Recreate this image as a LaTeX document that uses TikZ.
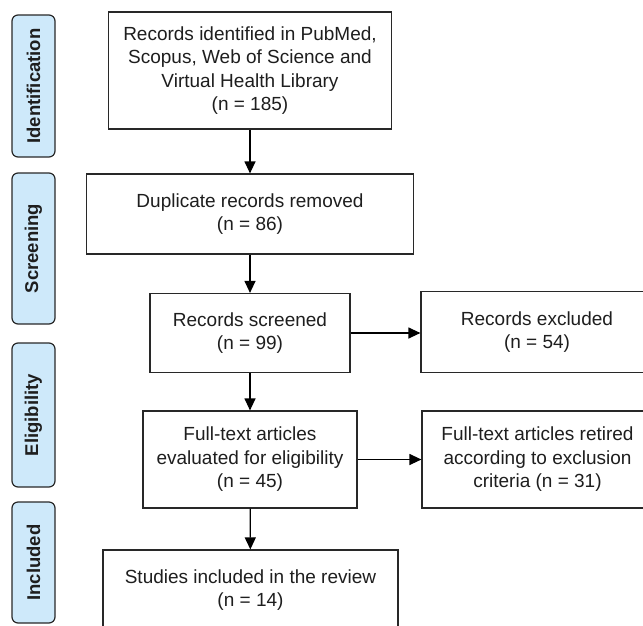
\documentclass[tikz,border=0pt]{standalone}
\usepackage{fontspec}
\setmainfont{Liberation Sans}
\usetikzlibrary{arrows.meta}
\definecolor{lblfill}{RGB}{206,233,250}
\definecolor{edge}{RGB}{40,40,40}
\definecolor{txt}{RGB}{30,30,30}
\tikzset{
  box/.style={draw=edge, line width=1.2pt, fill=white, align=center, inner sep=0pt,
    text=txt, font=\fontsize{19}{23.5}\selectfont},
  lbl/.style={draw=edge, line width=1.2pt, fill=lblfill, rounded corners=6pt, inner sep=0pt,
    text=txt, font=\bfseries\fontsize{18.5}{22}\selectfont, rotate=90},
  arr/.style={draw=black, line width=1.2pt, -{Triangle[length=12pt,width=11pt]}}
}
\begin{document}
\begin{tikzpicture}[x=1pt,y=-1pt]
\useasboundingbox (0,0) rectangle (643,625);
\clip (0,0) rectangle (643,625);
% side labels
\node[lbl, minimum width=142pt, minimum height=43pt] (l1) at (33.5,86) {Identification};
\node[lbl, minimum width=151pt, minimum height=43pt] (l2) at (33.5,248.5) {Screening};
\node[lbl, minimum width=144pt, minimum height=43pt] (l3) at (33.5,415) {Eligibility};
\node[lbl, minimum width=121pt, minimum height=43pt] (l4) at (33.5,562.5) {Included};
% main boxes
\node[box, minimum width=283pt, minimum height=117pt] (b1) at (250,70.5)
  {Records identified in PubMed,\\Scopus, Web of Science and\\Virtual Health Library\\(n = 185)};
\node[box, minimum width=327pt, minimum height=80pt] (b2) at (250,214)
  {Duplicate records removed\\(n = 86)};
\node[box, minimum width=200pt, minimum height=79pt] (b3) at (250,333)
  {Records screened\\(n = 99)};
\node[box, minimum width=232pt, minimum height=81pt] (ex) at (537,332)
  {Records excluded\\(n = 54)};
\node[box, minimum width=214pt, minimum height=97pt] (b4) at (250,459.5)
  {Full-text articles\\evaluated for eligibility\\(n = 45)};
\node[box, minimum width=231pt, minimum height=97pt] (rt) at (537.5,459.5)
  {Full-text articles retired\\according to exclusion\\criteria (n = 31)};
\node[box, minimum width=295pt, minimum height=80pt] (b5) at (250.5,590)
  {Studies included in the review\\(n = 14)};
% connectors
\draw[arr] (b1) -- (b2);
\draw[arr] (b2) -- (b3);
\draw[arr] (b3) -- (b4);
\draw[arr] (b4) -- (b5);
\draw[arr] (b3.east) -- (b3.east -| ex.west);
\draw[arr] (b4.east) -- (b4.east -| rt.west);
\end{tikzpicture}
\end{document}
